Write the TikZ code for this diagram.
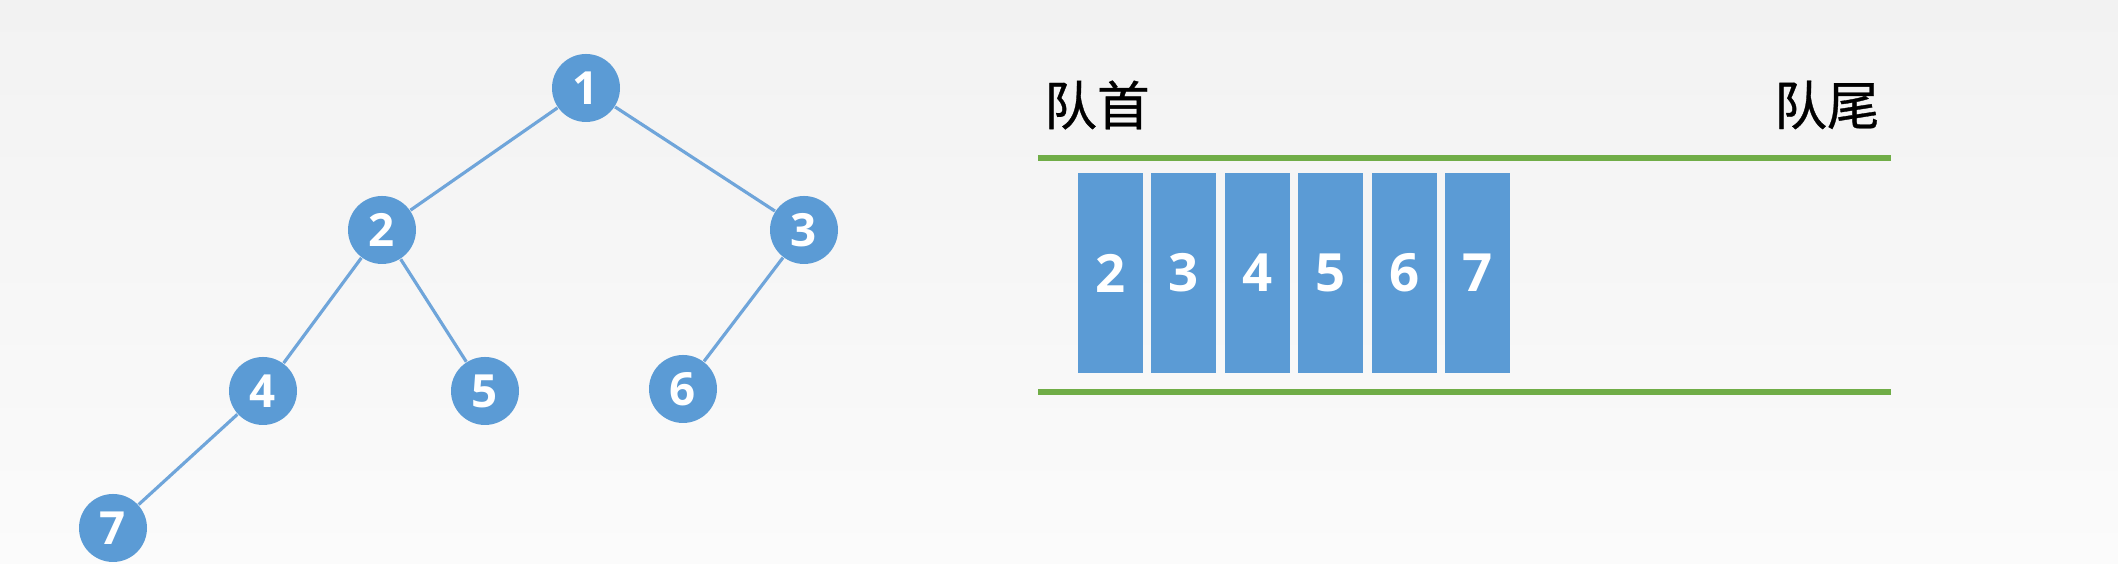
\documentclass[tikz,border=0pt]{standalone}
\usepackage{fontspec}
\setmainfont{Open Sans}
\newfontfamily\cjk[FakeBold=0.6]{Noto Sans CJK SC}
\usepackage{tikz}
\usetikzlibrary{positioning}
\definecolor{qblue}{HTML}{5B9BD5}
\definecolor{qedge}{HTML}{6FA5DA}
\definecolor{qgreen}{HTML}{70AD47}
\definecolor{bgtop}{HTML}{F2F2F2}
\definecolor{bgbot}{HTML}{FBFBFB}

\begin{document}
\begin{tikzpicture}[font=\fontsize{13pt}{15pt}\selectfont,
  vx/.style={circle,fill=qblue,text=white,inner sep=0pt,minimum size=6.8mm,font=\fontsize{13pt}{15pt}\selectfont\bfseries},
  cell/.style={rectangle,fill=qblue,text=white,inner sep=0pt,minimum width=6.5mm,minimum height=20mm,font=\fontsize{15pt}{17pt}\selectfont\bfseries},
  tr/.style={qedge,line width=0.9pt},
  rail/.style={qgreen,line width=1.5pt}]
  % background
  \shade[top color=bgtop,bottom color=bgbot] (0,0) rectangle (21.18,5.64);
  \useasboundingbox (0,0) rectangle (21.18,5.64);
  % tree
  \node[vx] (n1) at (5.86,4.76) {1};
  \node[vx] (n2) at (3.82,3.34) {2};
  \node[vx] (n3) at (8.04,3.34) {3};
  \node[vx] (n4) at (2.63,1.73) {4};
  \node[vx] (n5) at (4.85,1.73) {5};
  \node[vx] (n6) at (6.83,1.75) {6};
  \node[vx] (n7) at (1.13,0.36) {7};
  \draw[tr] (n1) -- (n2);
  \draw[tr] (n1) -- (n3);
  \draw[tr] (n2) -- (n4);
  \draw[tr] (n2) -- (n5);
  \draw[tr] (n3) -- (n6);
  \draw[tr] (n4) -- (n7);
  % queue
  \coordinate (ta) at (10.38,4.06);
  \coordinate (tb) at (18.91,4.06);
  \coordinate (ba) at (10.38,1.72);
  \coordinate (bb) at (18.91,1.72);
  \draw[rail] (ta) -- (tb);
  \draw[rail] (ba) -- (bb);
  \node[font=\fontsize{15pt}{17pt}\cjk] (head) at (10.97,4.59) {队首};
  \node[font=\fontsize{15pt}{17pt}\cjk] (tail) at (18.27,4.59) {队尾};
  \node[cell] (q2) at (11.105,2.91) {2};
  \node[cell,right=0.7mm of q2] (q3) {3};
  \node[cell,right=0.7mm of q3] (q4) {4};
  \node[cell,right=0.7mm of q4] (q5) {5};
  \node[cell,right=0.7mm of q5] (q6) {6};
  \node[cell,right=0.7mm of q6] (q7) {7};
\end{tikzpicture}
\end{document}
